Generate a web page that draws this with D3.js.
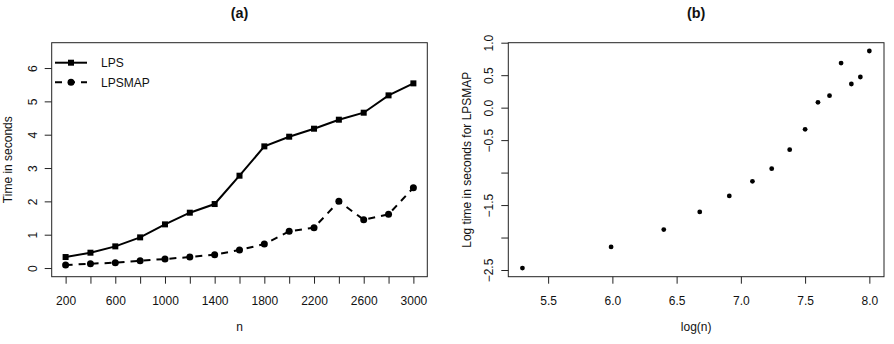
<!DOCTYPE html>
<html>
<head>
<meta charset="utf-8">
<script src="https://cdn.jsdelivr.net/npm/d3@7"></script>
<style>
  html, body { margin: 0; padding: 0; background: #fff; }
  svg { display: block; font-family: "Liberation Sans", Arial, Helvetica, sans-serif; }
</style>
</head>
<body>
<svg id="chart" width="894" height="344"></svg>
<script>
// ---------- data ----------
const nValues    = [200, 400, 600, 800, 1000, 1200, 1400, 1600, 1800, 2000, 2200, 2400, 2600, 2800, 3000];
const lpsTime    = [0.33, 0.46, 0.65, 0.92, 1.31, 1.66, 1.92, 2.77, 3.65, 3.94, 4.18, 4.45, 4.66, 5.18, 5.54];
const lpsmapTime = [0.09, 0.13, 0.16, 0.22, 0.27, 0.33, 0.40, 0.54, 0.72, 1.10, 1.21, 2.00, 1.45, 1.61, 2.41];
const logN       = [5.30, 5.99, 6.40, 6.68, 6.91, 7.09, 7.24, 7.38, 7.50, 7.60, 7.69, 7.78, 7.86, 7.93, 8.00];
const logTime    = [-2.47, -2.145, -1.878, -1.606, -1.36, -1.134, -0.939, -0.647, -0.334, 0.082, 0.184, 0.687, 0.364, 0.472, 0.872];

const leftXTicks    = [200, 400, 600, 800, 1000, 1200, 1400, 1600, 1800, 2000, 2200, 2400, 2600, 2800, 3000];
const leftXLabels   = [200, 600, 1000, 1400, 1800, 2200, 2600, 3000];
const leftYTicks    = [0, 1, 2, 3, 4, 5, 6];
const rightXTicks   = [5.5, 6.0, 6.5, 7.0, 7.5, 8.0];
const rightYTicks   = [-2.5, -2.0, -1.5, -1.0, -0.5, 0.0, 0.5, 1.0];
const rightYLabels  = [-2.5, -1.5, -0.5, 0.0, 0.5, 1.0];
const seriesNames   = ["LPS", "LPSMAP"];

// ---------- layout ----------
const svg = d3.select("#chart");
const yTop = 42.7, yBot = 276.7;
const L = { x0: 51.7, x1: 427.3 };
const R = { x0: 508.3, x1: 884 };
const FS = 12;
const DASH = "7,6";

const xL = d3.scaleLinear().domain([88, 3112]).range([L.x0, L.x1]);
const yL = d3.scaleLinear().domain([-0.26, 6.76]).range([yBot, yTop]);
const xR = d3.scaleLinear().domain([5.19, 8.114]).range([R.x0, R.x1]);
const yR = d3.scaleLinear().domain([-2.603, 1.0]).range([yBot, yTop]);

const fmtMinus = s => s.replace("-", "\u2212");

function drawXAxis(scale, ticks, labels, fmt) {
  const g = svg.append("g").attr("transform", `translate(0,${yBot})`)
    .call(d3.axisBottom(scale).tickValues(ticks).tickSize(7).tickSizeOuter(0)
      .tickFormat(d => labels.some(v => Math.abs(v - d) < 1e-9) ? fmt(d) : ""));
  g.select(".domain").remove();
  g.selectAll(".tick line").attr("stroke", "#222");
  g.selectAll(".tick text").attr("y", 28.3).attr("dy", 0)
    .attr("font-size", FS).attr("font-family", null).attr("fill", "#111");
  return g;
}
function drawYAxis(scale, x0, ticks, labels, fmt) {
  const g = svg.append("g").attr("transform", `translate(${x0},0)`)
    .call(d3.axisLeft(scale).tickValues(ticks).tickSize(7).tickSizeOuter(0)
      .tickFormat(d => labels.some(v => Math.abs(v - d) < 1e-9) ? fmt(d) : ""));
  g.select(".domain").remove();
  g.selectAll(".tick line").attr("stroke", "#222");
  g.selectAll(".tick text")
    .attr("transform", "rotate(-90)")
    .attr("x", 0).attr("y", -15).attr("dy", 0)
    .attr("text-anchor", "middle")
    .attr("font-size", FS).attr("font-family", null).attr("fill", "#111");
  return g;
}

// ---------- panel (a) ----------
drawXAxis(xL, leftXTicks, leftXLabels, d => String(d));
drawYAxis(yL, L.x0, leftYTicks, leftYTicks, d => String(d));

svg.append("rect").attr("x", L.x0).attr("y", yTop)
  .attr("width", L.x1 - L.x0).attr("height", yBot - yTop)
  .attr("fill", "none").attr("stroke", "#222").attr("stroke-width", 1);

const lineL1 = d3.line().x((d, i) => xL(nValues[i])).y(d => yL(d));
svg.append("path").datum(lpsTime).attr("d", lineL1)
  .attr("fill", "none").attr("stroke", "#000").attr("stroke-width", 2);
svg.append("path").datum(lpsmapTime).attr("d", lineL1)
  .attr("fill", "none").attr("stroke", "#000").attr("stroke-width", 2)
  .attr("stroke-dasharray", DASH);

const sq = 6;
svg.append("g").selectAll("rect").data(lpsTime).join("rect")
  .attr("x", (d, i) => xL(nValues[i]) - sq / 2).attr("y", d => yL(d) - sq / 2)
  .attr("width", sq).attr("height", sq).attr("fill", "#000");
svg.append("g").selectAll("circle").data(lpsmapTime).join("circle")
  .attr("cx", (d, i) => xL(nValues[i])).attr("cy", d => yL(d))
  .attr("r", 3.5).attr("fill", "#000");

// legend
const legX0 = 55, legX1 = 87, legTx = 101;
const legY = [62.7, 82.3];
svg.append("line").attr("x1", legX0).attr("x2", legX1).attr("y1", legY[0]).attr("y2", legY[0])
  .attr("stroke", "#000").attr("stroke-width", 2);
svg.append("rect").attr("x", (legX0 + legX1) / 2 - sq / 2).attr("y", legY[0] - sq / 2)
  .attr("width", sq).attr("height", sq).attr("fill", "#000");
svg.append("line").attr("x1", legX0).attr("x2", legX1).attr("y1", legY[1]).attr("y2", legY[1])
  .attr("stroke", "#000").attr("stroke-width", 2).attr("stroke-dasharray", DASH);
svg.append("circle").attr("cx", (legX0 + legX1) / 2).attr("cy", legY[1]).attr("r", 3.5).attr("fill", "#000");
seriesNames.forEach((s, i) => {
  svg.append("text").attr("x", legTx).attr("y", legY[i] + 4.3)
    .attr("font-size", FS).attr("fill", "#111").text(s);
});

// titles / labels (a)
svg.append("text").attr("x", (L.x0 + L.x1) / 2).attr("y", 18).attr("text-anchor", "middle")
  .attr("font-size", 14.4).attr("font-weight", "bold").attr("fill", "#111").text("(a)");
svg.append("text").attr("x", (L.x0 + L.x1) / 2).attr("y", 331).attr("text-anchor", "middle")
  .attr("font-size", FS).attr("fill", "#111").text("n");
svg.append("text").attr("transform", `translate(12,${(yTop + yBot) / 2}) rotate(-90)`)
  .attr("text-anchor", "middle").attr("font-size", FS).attr("fill", "#111").text("Time in seconds");

// ---------- panel (b) ----------
drawXAxis(xR, rightXTicks, rightXTicks, d => d.toFixed(1));
drawYAxis(yR, R.x0, rightYTicks, rightYLabels, d => fmtMinus(d.toFixed(1)));

svg.append("rect").attr("x", R.x0).attr("y", yTop)
  .attr("width", R.x1 - R.x0).attr("height", yBot - yTop)
  .attr("fill", "none").attr("stroke", "#222").attr("stroke-width", 1);

svg.append("g").selectAll("circle").data(logTime).join("circle")
  .attr("cx", (d, i) => xR(logN[i])).attr("cy", d => yR(d))
  .attr("r", 2.4).attr("fill", "#000");

svg.append("text").attr("x", (R.x0 + R.x1) / 2).attr("y", 18).attr("text-anchor", "middle")
  .attr("font-size", 14.4).attr("font-weight", "bold").attr("fill", "#111").text("(b)");
svg.append("text").attr("x", (R.x0 + R.x1) / 2).attr("y", 331).attr("text-anchor", "middle")
  .attr("font-size", FS).attr("fill", "#111").text("log(n)");
svg.append("text").attr("transform", `translate(471,${(yTop + yBot) / 2}) rotate(-90)`)
  .attr("text-anchor", "middle").attr("font-size", FS).attr("fill", "#111").text("Log time in seconds for LPSMAP");
</script>
</body>
</html>
